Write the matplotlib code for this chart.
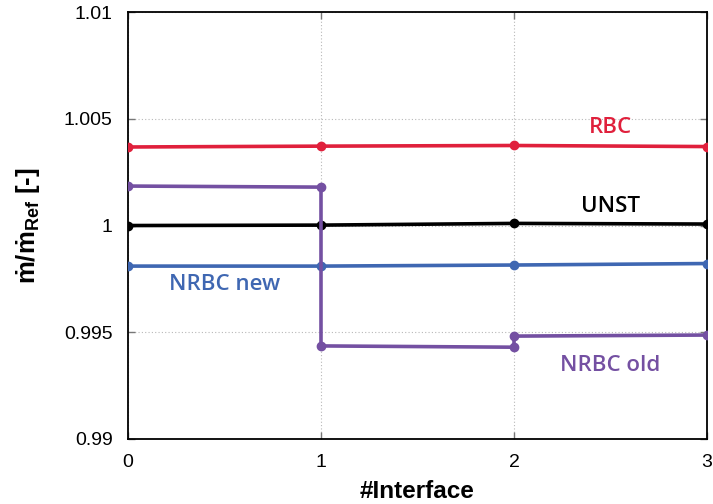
import matplotlib
matplotlib.use("Agg")
import matplotlib.pyplot as plt

# Mass-flow ratio at each interface
interfaces = [0, 1, 2, 3]
rbc = [1.00368, 1.00372, 1.00375, 1.00370]
unst = [1.00000, 1.00002, 1.00010, 1.00007]
nrbc_new = [0.99810, 0.99810, 0.99815, 0.99822]
# NRBC old is piecewise: each pair spans one interface segment
nrbc_old_x = [0, 1, 1, 2, 2, 3]
nrbc_old_y = [1.00185, 1.00180, 0.99436, 0.99430, 0.99482, 0.99487]

x_ticks = [0, 1, 2, 3]
y_ticks = [0.99, 0.995, 1.0, 1.005, 1.01]
y_tick_labels = ["0.99", "0.995", "1", "1.005", "1.01"]

c_rbc = "#e0203c"
c_unst = "#000000"
c_new = "#3f67b2"
c_old = "#7450a2"

plt.rcParams["mathtext.fontset"] = "custom"
plt.rcParams["mathtext.bf"] = "Liberation Sans:bold"
plt.rcParams["mathtext.rm"] = "Liberation Sans"

fig = plt.figure(figsize=(7.13, 5.04), dpi=100)
ax = fig.add_axes([0.1795, 0.129, 0.8121, 0.847])

lw = 2.6
ms = 6
ax.plot(interfaces, rbc, color=c_rbc, lw=lw, marker="o", ms=ms, zorder=3)
ax.plot(interfaces, unst, color=c_unst, lw=lw, marker="o", ms=ms, zorder=3)
ax.plot(interfaces, nrbc_new, color=c_new, lw=lw, marker="o", ms=ms, zorder=3)
ax.plot(nrbc_old_x, nrbc_old_y, color=c_old, lw=lw, marker="o", ms=ms, zorder=3)

ax.set_xlim(0, 3)
ax.set_ylim(0.99, 1.01)
ax.set_xticks(x_ticks)
ax.set_xticklabels([str(v) for v in x_ticks], fontfamily="Liberation Sans", fontsize=14)
ax.set_yticks(y_ticks)
ax.set_yticklabels(y_tick_labels, fontfamily="Liberation Sans", fontsize=14)
ax.tick_params(direction="in", length=5, width=1, top=True, right=True, pad=11,
               color="#777777")
ax.grid(True, color="#b8b8b8", linestyle=(0, (1, 2)), linewidth=0.8)
for s in ax.spines.values():
    s.set_linewidth(1.3)

ax.set_xlabel("#Interface", fontfamily="Liberation Sans", fontweight="bold",
              fontsize=17.5, labelpad=6)
ax.set_ylabel("ṁ/ṁ$_{\\mathbf{Ref}}$ [-]", fontfamily="Liberation Sans",
              fontweight="bold", fontsize=18.5, labelpad=16)

lab_font = dict(fontfamily="Open Sans", fontweight="semibold", fontsize=16,
                ha="center", va="center")
ax.text(2.5, 1.00457, "RBC", color=c_rbc, **lab_font)
ax.text(2.5, 1.00087, "UNST", color=c_unst, **lab_font)
ax.text(0.5, 0.99726, "NRBC new", color=c_new, **lab_font)
ax.text(2.5, 0.99342, "NRBC old", color=c_old, **lab_font)

fig.savefig("out.png", dpi=100)
